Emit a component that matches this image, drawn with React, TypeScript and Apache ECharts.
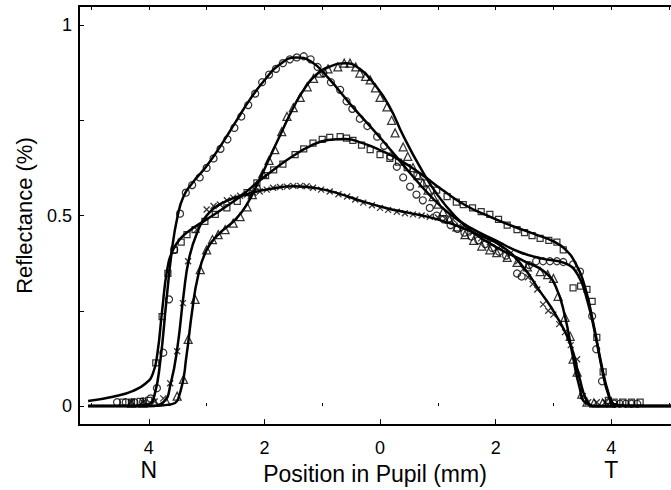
import React, { useEffect, useRef } from 'react';
import * as echarts from 'echarts';

// ---- data (x in mm, y reflectance) ----
const circleMarks: number[][] = [
  [-4.55, 0.01], [-4.4, 0.01], [-4.25, 0.01], [-4.1, 0.012], [-3.97, 0.02], [-3.86, 0.047], [-3.75, 0.14],
  [-3.65, 0.28], [-3.56, 0.41], [-3.46, 0.505], [-3.36, 0.56], [-3.25, 0.58], [-3.12, 0.6], [-3.0, 0.625],
  [-2.88, 0.65], [-2.76, 0.675], [-2.64, 0.7], [-2.52, 0.73], [-2.4, 0.76], [-2.28, 0.79], [-2.16, 0.82],
  [-2.04, 0.85], [-1.92, 0.87], [-1.8, 0.885], [-1.68, 0.9], [-1.56, 0.91], [-1.44, 0.915], [-1.32, 0.918],
  [-1.2, 0.91], [-1.08, 0.89], [-0.98, 0.874], [-0.85, 0.85], [-0.69, 0.83], [-0.58, 0.8], [-0.48, 0.78],
  [-0.35, 0.754], [-0.22, 0.735], [-0.05, 0.707], [0.07, 0.683], [0.18, 0.655], [0.29, 0.628], [0.4, 0.6],
  [0.52, 0.576], [0.63, 0.555], [0.74, 0.54], [0.86, 0.52], [0.98, 0.5], [1.1, 0.49], [1.22, 0.475],
  [1.34, 0.465], [1.46, 0.455], [1.58, 0.445], [1.7, 0.435], [1.82, 0.425], [1.94, 0.415], [2.06, 0.405],
  [2.18, 0.395], [2.37, 0.348], [2.45, 0.34], [2.58, 0.37], [2.7, 0.38], [2.82, 0.38], [2.94, 0.38],
  [3.06, 0.38], [3.17, 0.378], [3.34, 0.372], [3.46, 0.353], [3.67, 0.236], [3.74, 0.149], [3.84, 0.065],
  [3.95, 0.01], [4.05, 0.006], [4.15, 0.006], [4.25, 0.006], [4.35, 0.006], [4.45, 0.006],
];
const circleFit: number[][] = [
  [-5.05, 0], [-4.2, 0], [-4.0, 0.005], [-3.9, 0.03], [-3.8, 0.12], [-3.7, 0.27], [-3.6, 0.41], [-3.5, 0.5],
  [-3.4, 0.55], [-3.25, 0.585], [-3.0, 0.63], [-2.75, 0.685], [-2.5, 0.745], [-2.25, 0.805], [-2.0, 0.855],
  [-1.75, 0.895], [-1.45, 0.915], [-1.2, 0.905], [-0.9, 0.862], [-0.5, 0.79], [0, 0.705], [0.5, 0.615],
  [0.85, 0.555], [1.2, 0.505], [1.6, 0.465], [2.0, 0.435], [2.4, 0.405], [2.8, 0.387], [3.2, 0.375],
  [3.42, 0.345], [3.58, 0.28], [3.72, 0.19], [3.85, 0.09], [3.95, 0.03], [4.05, 0.005], [4.3, 0], [5.1, 0],
];

const squareMarks: number[][] = [
  [-4.45, 0.01], [-4.3, 0.01], [-4.15, 0.012], [-4.0, 0.015], [-3.88, 0.113], [-3.77, 0.235], [-3.67, 0.348],
  [-3.56, 0.41], [-3.44, 0.43], [-3.34, 0.45], [-3.2, 0.463], [-3.03, 0.485], [-2.85, 0.503], [-2.65, 0.52],
  [-2.47, 0.537], [-2.3, 0.56], [-2.13, 0.586], [-1.98, 0.605], [-1.84, 0.62], [-1.68, 0.635], [-1.47, 0.66],
  [-1.32, 0.675], [-1.16, 0.69], [-1.0, 0.7], [-0.87, 0.705], [-0.69, 0.707], [-0.58, 0.703], [-0.47, 0.697],
  [-0.32, 0.685], [-0.17, 0.673], [0.0, 0.66], [0.17, 0.65], [0.32, 0.64], [0.47, 0.626], [0.64, 0.605],
  [0.81, 0.586], [0.98, 0.567], [1.16, 0.55], [1.32, 0.535], [1.44, 0.529], [1.6, 0.52], [1.75, 0.51],
  [1.9, 0.503], [2.05, 0.49], [2.2, 0.475], [2.37, 0.463], [2.5, 0.455], [2.63, 0.447], [2.77, 0.44],
  [2.92, 0.435], [3.06, 0.43], [3.17, 0.41], [3.34, 0.31], [3.47, 0.315], [3.58, 0.306], [3.67, 0.275],
  [3.75, 0.18], [3.86, 0.09], [3.95, 0.015], [4.05, 0.01], [4.2, 0.01], [4.35, 0.01], [4.5, 0.01],
];
const squareFit: number[][] = [
  [-5.05, 0.013], [-4.6, 0.025], [-4.27, 0.04], [-4.05, 0.06], [-3.93, 0.085], [-3.85, 0.14], [-3.77, 0.25],
  [-3.68, 0.36], [-3.58, 0.41], [-3.45, 0.44], [-3.3, 0.46], [-3.0, 0.49], [-2.7, 0.52], [-2.4, 0.552],
  [-2.1, 0.59], [-1.8, 0.625], [-1.5, 0.657], [-1.2, 0.683], [-0.9, 0.698], [-0.6, 0.701], [-0.3, 0.69],
  [0.0, 0.672], [0.35, 0.645], [0.7, 0.61], [1.1, 0.565], [1.5, 0.525], [1.9, 0.497], [2.3, 0.472],
  [2.7, 0.45], [3.0, 0.432], [3.2, 0.412], [3.38, 0.375], [3.55, 0.31], [3.7, 0.21], [3.83, 0.11],
  [3.95, 0.035], [4.05, 0.005], [4.3, 0], [5.1, 0],
];

const triangleMarks: number[][] = [
  [-4.3, 0.008], [-4.1, 0.008], [-3.9, 0.01], [-3.7, 0.012], [-3.51, 0.026], [-3.4, 0.07], [-3.32, 0.175],
  [-3.2, 0.28], [-3.11, 0.358], [-3.0, 0.41], [-2.9, 0.437], [-2.8, 0.45], [-2.68, 0.463], [-2.54, 0.48],
  [-2.42, 0.497], [-2.3, 0.523], [-2.21, 0.555], [-2.13, 0.58], [-2.03, 0.61], [-1.92, 0.645], [-1.82, 0.673],
  [-1.7, 0.72], [-1.61, 0.76], [-1.5, 0.783], [-1.38, 0.81], [-1.26, 0.838], [-1.15, 0.86], [-1.04, 0.874],
  [-0.9, 0.885], [-0.73, 0.89], [-0.62, 0.9], [-0.52, 0.9], [-0.42, 0.89], [-0.35, 0.874], [-0.25, 0.865],
  [-0.17, 0.856], [-0.08, 0.835], [0.0, 0.81], [0.12, 0.785], [0.2, 0.75], [0.26, 0.717], [0.4, 0.68],
  [0.48, 0.655], [0.57, 0.626], [0.66, 0.605], [0.74, 0.586], [0.83, 0.567], [0.92, 0.55], [1.0, 0.53],
  [1.09, 0.51], [1.2, 0.49], [1.33, 0.47], [1.47, 0.45], [1.62, 0.435], [1.76, 0.42], [1.9, 0.41],
  [2.02, 0.403], [2.2, 0.39], [2.37, 0.377], [2.55, 0.365], [2.77, 0.353], [2.9, 0.345], [3.0, 0.335],
  [3.08, 0.288], [3.2, 0.233], [3.29, 0.183], [3.34, 0.123], [3.41, 0.089], [3.49, 0.031], [3.58, 0.01],
  [3.7, 0.008], [3.85, 0.008], [4.0, 0.008],
];
const triangleFit: number[][] = [
  [-5.05, 0], [-4.0, 0], [-3.6, 0.005], [-3.45, 0.04], [-3.35, 0.13], [-3.25, 0.25], [-3.15, 0.34],
  [-3.0, 0.41], [-2.8, 0.45], [-2.5, 0.49], [-2.3, 0.53], [-2.1, 0.59], [-1.9, 0.655], [-1.7, 0.72],
  [-1.5, 0.783], [-1.3, 0.835], [-1.1, 0.87], [-0.85, 0.892], [-0.6, 0.9], [-0.35, 0.885], [-0.1, 0.845],
  [0.15, 0.79], [0.4, 0.71], [0.7, 0.625], [1.0, 0.553], [1.3, 0.498], [1.6, 0.457], [2.0, 0.418],
  [2.5, 0.38], [2.85, 0.352], [3.05, 0.31], [3.2, 0.235], [3.33, 0.135], [3.45, 0.05], [3.56, 0.008],
  [3.8, 0], [5.1, 0],
];

const crossMarks: number[][] = [
  [-4.3, 0.01], [-4.1, 0.01], [-3.9, 0.012], [-3.75, 0.02], [-3.63, 0.06], [-3.51, 0.144], [-3.41, 0.27],
  [-3.32, 0.38], [-3.17, 0.463], [-3.0, 0.516], [-2.88, 0.525], [-2.77, 0.529], [-2.65, 0.54], [-2.54, 0.547],
  [-2.42, 0.552], [-2.3, 0.555], [-2.19, 0.56], [-2.08, 0.563], [-1.96, 0.568], [-1.85, 0.573], [-1.73, 0.575],
  [-1.61, 0.576], [-1.5, 0.578], [-1.38, 0.578], [-1.27, 0.577], [-1.16, 0.573], [-1.02, 0.568], [-0.87, 0.563],
  [-0.72, 0.556], [-0.57, 0.55], [-0.43, 0.542], [-0.29, 0.534], [-0.14, 0.527], [0, 0.52], [0.14, 0.515],
  [0.29, 0.51], [0.43, 0.506], [0.57, 0.503], [0.72, 0.5], [0.86, 0.497], [1.0, 0.495], [1.13, 0.492],
  [1.26, 0.49], [1.43, 0.47], [1.6, 0.455], [1.75, 0.44], [1.9, 0.43], [2.08, 0.42], [2.25, 0.4],
  [2.39, 0.38], [2.48, 0.36], [2.56, 0.338], [2.64, 0.32], [2.72, 0.306], [2.82, 0.267], [2.91, 0.25],
  [3.0, 0.24], [3.1, 0.215], [3.2, 0.194], [3.3, 0.16], [3.41, 0.123], [3.51, 0.026], [3.6, 0.01],
  [3.75, 0.01], [3.9, 0.01],
];
const crossFit: number[][] = [
  [-5.05, 0], [-4.0, 0], [-3.75, 0.01], [-3.62, 0.06], [-3.5, 0.16], [-3.4, 0.29], [-3.3, 0.39],
  [-3.15, 0.46], [-3.0, 0.5], [-2.7, 0.535], [-2.3, 0.556], [-1.9, 0.57], [-1.5, 0.577], [-1.1, 0.572],
  [-0.7, 0.557], [-0.3, 0.537], [0.1, 0.52], [0.5, 0.507], [0.9, 0.494], [1.3, 0.475], [1.7, 0.45],
  [2.1, 0.42], [2.45, 0.37], [2.75, 0.305], [3.05, 0.237], [3.3, 0.16], [3.45, 0.075], [3.56, 0.02],
  [3.68, 0], [5.1, 0],
];

const xMajorTicks = [-4, -2, 0, 2, 4];
const xMinorTicks = [-5, -3, -1, 1, 3, 5];
const xTopTicks = [-5, -4, -3, -2, -1, 0, 1, 2, 3, 4, 5];
const yLabelValues = [0, 0.5, 1];
const yTickValues = [0, 0.25, 0.5, 0.75, 1];
const sideLabels = [
  { at: -4, text: 'N' },
  { at: 4, text: 'T' },
];

const FONT = "'Liberation Sans', Arial, Helvetica, sans-serif";
const BLACK = '#000';

export default function App() {
  const ref = useRef<HTMLDivElement>(null);
  useEffect(() => {
    const chart = echarts.init(ref.current!, null, { renderer: 'svg' });
    const xMin = -5.208;
    const xMax = 5.034;
    const baseX = {
      type: 'value' as const,
      min: xMin,
      max: xMax,
      splitLine: { show: false },
    };
    const fitSeries = (data: number[][]) => ({
      type: 'line',
      data,
      showSymbol: false,
      symbol: 'none',
      smooth: 0.5,
      lineStyle: { color: BLACK, width: 2.5 },
      z: 3,
      silent: true,
    });
    const markSeries = (data: number[][], symbol: string, size: number) => ({
      type: 'scatter',
      data,
      symbol,
      symbolSize: size,
      itemStyle: { color: 'rgba(0,0,0,0)', borderColor: BLACK, borderWidth: 1.25 },
      z: 2,
      silent: true,
    });
    const option: any = {
      animation: false,
      backgroundColor: '#fff',
      grid: { left: 79, right: 0, top: 6, bottom: 64, containLabel: false },
      xAxis: [
        {
          ...baseX,
          position: 'bottom',
          name: 'Position in Pupil (mm)',
          nameLocation: 'middle',
          nameGap: 30,
          nameTextStyle: { fontSize: 23, color: BLACK, fontFamily: FONT },
          axisLine: { show: true, onZero: false, lineStyle: { color: BLACK, width: 2 } },
          axisTick: { show: true, inside: true, length: 6, customValues: xMajorTicks, lineStyle: { color: BLACK, width: 1 } },
          axisLabel: {
            show: true,
            customValues: xMajorTicks,
            margin: 14,
            fontSize: 18,
            color: BLACK,
            fontFamily: FONT,
            formatter: (v: number) => String(Math.abs(v)),
          },
        },
        {
          ...baseX,
          position: 'bottom',
          axisLine: { show: false },
          axisTick: { show: true, inside: true, length: 3, customValues: xMinorTicks, lineStyle: { color: BLACK, width: 1 } },
          axisLabel: { show: false },
        },
        {
          ...baseX,
          position: 'top',
          axisLine: { show: true, onZero: false, lineStyle: { color: BLACK, width: 2 } },
          axisTick: { show: true, inside: true, length: 4, customValues: xTopTicks, lineStyle: { color: BLACK, width: 1 } },
          axisLabel: { show: false },
        },
      ],
      yAxis: [
        {
          type: 'value',
          min: -0.05,
          max: 1.05,
          position: 'left',
          splitLine: { show: false },
          name: 'Reflectance (%)',
          nameLocation: 'middle',
          nameGap: 44,
          nameTextStyle: { fontSize: 22, color: BLACK, fontFamily: FONT },
          axisLine: { show: true, onZero: false, lineStyle: { color: BLACK, width: 2 } },
          axisTick: { show: true, inside: true, length: 5, customValues: yTickValues, lineStyle: { color: BLACK, width: 1 } },
          axisLabel: {
            show: true,
            customValues: yLabelValues,
            margin: 7,
            fontSize: 18,
            color: BLACK,
            fontFamily: FONT,
            formatter: (v: number) => String(v),
          },
        },
      ],
      series: [
        markSeries(circleMarks, 'circle', 7),
        markSeries(squareMarks, 'rect', 6),
        markSeries(triangleMarks, 'triangle', 8),
        markSeries(crossMarks, 'path://M0,0L10,10M10,0L0,10', 6),
        fitSeries(circleFit),
        fitSeries(squareFit),
        fitSeries(triangleFit),
        fitSeries(crossFit),
      ],
    };
    chart.setOption(option);
    const labelY = 470;
    chart.setOption({
      graphic: sideLabels.map((s) => ({
        type: 'text',
        x: chart.convertToPixel({ xAxisIndex: 0 }, s.at) as number,
        y: labelY,
        style: {
          text: s.text,
          fontSize: 23,
          fontFamily: FONT,
          fill: BLACK,
          textAlign: 'center',
          textVerticalAlign: 'middle',
        },
      })),
    });
    return () => chart.dispose();
  }, []);
  return (
    <div
      ref={ref}
      style={{ position: 'fixed', left: 0, top: 0, width: 671, height: 490, background: '#fff' }}
    />
  );
}
